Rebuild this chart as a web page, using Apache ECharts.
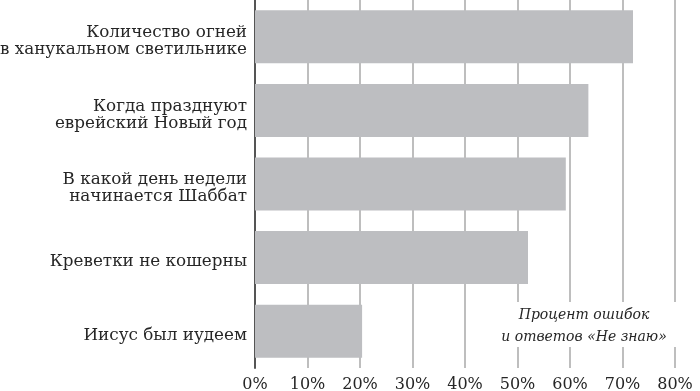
<!DOCTYPE html>
<html>
<head>
<meta charset="utf-8">
<script src="https://cdn.jsdelivr.net/npm/echarts@6/dist/echarts.min.js"></script>
<style>html,body{margin:0;padding:0;background:#fff}#c{width:700px;height:391px}</style>
</head>
<body>
<div id="c"></div>
<script>
var categories = [
  "Количество огней\nв ханукальном светильнике",
  "Когда празднуют\nеврейский Новый год",
  "В какой день недели\nначинается Шаббат",
  "Креветки не кошерны",
  "Иисус был иудеем"
];
var values = [72, 63.5, 59.2, 52, 20.4];
var tickMin = 0, tickMax = 80, tickStep = 10;
var noteText = "Процент ошибок\nи ответов «Не знаю»";

var FONT = "DejaVu Serif";
var chart = echarts.init(document.getElementById('c'), null, {renderer: 'canvas'});
chart.setOption({
  animation: false,
  backgroundColor: '#ffffff',
  grid: {left: 255, right: 25, top: 0, bottom: 23, containLabel: false, outerBoundsMode: 'none'},
  xAxis: {
    type: 'value', min: tickMin, max: tickMax, interval: tickStep,
    axisLine: {show: false}, axisTick: {show: false},
    splitLine: {show: true, lineStyle: {color: '#a9a9a9', width: 1.5}},
    axisLabel: {formatter: '{value}%', color: '#262626', fontFamily: FONT, fontSize: 16, margin: 9}
  },
  yAxis: {
    type: 'category', data: categories, inverse: true,
    axisLine: {show: true, lineStyle: {color: '#555', width: 2}},
    axisTick: {show: false},
    axisLabel: {
      color: '#262626', fontFamily: FONT, fontSize: 16.8, lineHeight: 17, margin: 8, align: 'right',
      formatter: function (v) {
        return '{s| }\n' + v.split('\n').map(function (l) { return '{a|' + l + '}'; }).join('\n');
      },
      rich: {
        s: {fontSize: 8, lineHeight: 9, height: 9},
        a: {fontFamily: FONT, fontSize: 16.8, lineHeight: 17, color: '#262626'}
      }
    }
  },
  series: [{
    type: 'bar', data: values, barWidth: 53,
    itemStyle: {color: '#bdbec1'}, z: 3
  }],
  graphic: [
    {type: 'rect', x: 500, y: 302, shape: {width: 182, height: 45}, style: {fill: '#ffffff'}, z: 10},
    {type: 'text', x: 584, y: 304, z: 11,
     style: {text: noteText, fill: '#262626', fontFamily: FONT, fontStyle: 'italic', fontSize: 14, align: 'center', lineHeight: 22}}
  ]
});
</script>
</body>
</html>
